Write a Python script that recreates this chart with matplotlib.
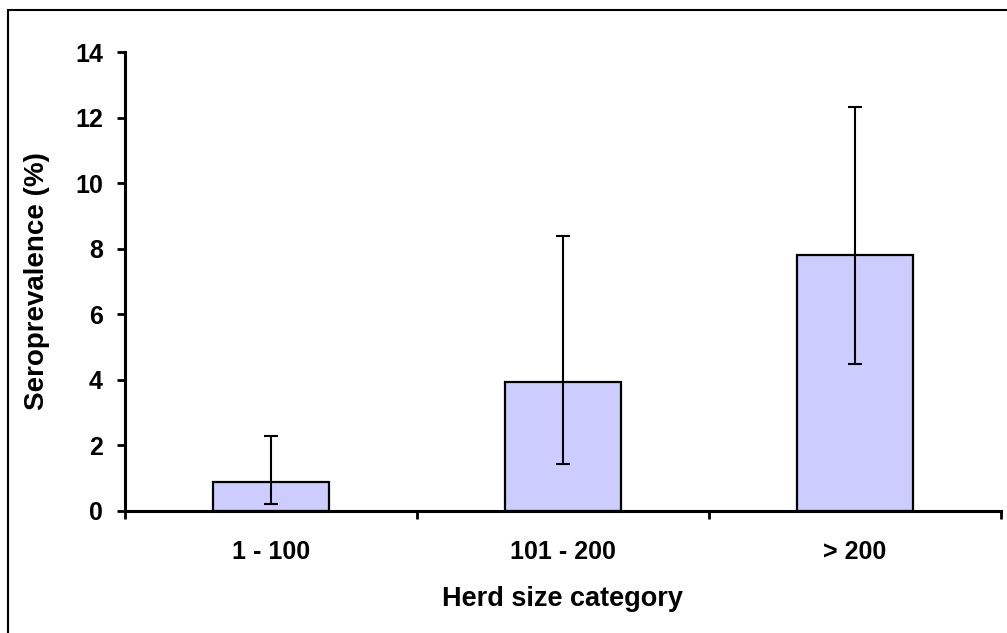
import numpy as np
import matplotlib.pyplot as plt
from matplotlib.patches import Rectangle

plt.rcParams['font.family'] = ['Liberation Sans', 'DejaVu Sans']
plt.rcParams['font.weight'] = 'bold'

# Seroprevalence by herd size, with 95% CI bounds
categories = ['1 - 100', '101 - 200', '> 200']
prevalence = [0.88, 3.93, 7.80]
ci_low = [0.21, 1.43, 4.48]
ci_high = [2.29, 8.38, 12.32]

prev = np.array(prevalence)
err = np.array([prev - np.array(ci_low), np.array(ci_high) - prev])
x = np.arange(len(categories))

fig = plt.figure(figsize=(10.07, 6.33), dpi=100)
ax = fig.add_axes([125 / 1007, 1 - 511 / 633, 876 / 1007, 459 / 633])

ax.bar(x, prev, width=0.4, color='#CCCCFF', edgecolor='black', linewidth=1.6,
       zorder=2)
ax.errorbar(x, prev, yerr=err, fmt='none', ecolor='black', elinewidth=1.5,
            capsize=5, capthick=1.5, zorder=3)

ax.set_xlim(-0.5, len(categories) - 0.5)
ax.set_ylim(0, 14)
ax.set_yticks(np.arange(0, 15, 2))
ax.set_xticks(x)
ax.set_xticklabels(categories)
ax.set_xticks(np.arange(-0.5, len(categories), 1), minor=True)

for side in ['top', 'right']:
    ax.spines[side].set_visible(False)
for side in ['left', 'bottom']:
    ax.spines[side].set_linewidth(2.2)

ax.tick_params(axis='y', direction='out', length=6, width=2, labelsize=18,
               pad=10)
ax.tick_params(axis='x', which='major', length=0, labelsize=18, pad=21)
ax.tick_params(axis='x', which='minor', direction='out', length=6, width=2)

ax.set_xlabel('Herd size category', fontsize=19.5, fontweight='bold',
              labelpad=16)
ax.set_ylabel('Seroprevalence (%)', fontsize=20, fontweight='bold',
              labelpad=18)

# outer chart frame
fig.patches.append(Rectangle((8 / 1007, -0.2), 1.2, 1.2 - 10 / 633,
                             transform=fig.transFigure, fill=False,
                             edgecolor='black', linewidth=1.5))

fig.savefig('out.png', dpi=100)
